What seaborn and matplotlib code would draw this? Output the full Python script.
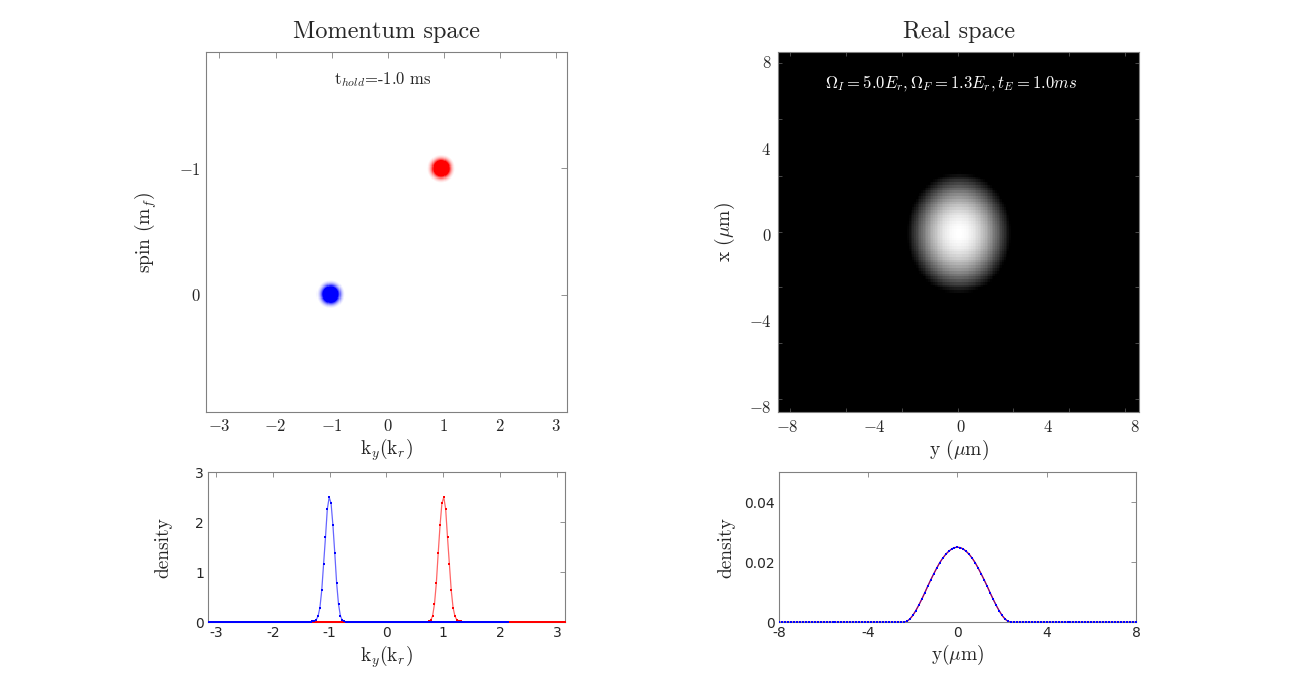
import numpy as np
import pandas as pd
import seaborn as sns
import matplotlib.pyplot as plt

# ---- values ----
# momentum space: blob centres (k_y [k_r], spin m_f)
blue_center = (-1.02, 0.0)
red_center = (0.96, -1.0)
blob_width_k = 0.093
blob_width_spin = 0.042

# momentum density near each peak, one value per grid step (~0.033 k_r)
blue_peak = [0.01, 0.02, 0.03, 0.05, 0.12, 0.29, 0.64, 1.17, 1.70, 2.27,
             2.50, 2.38, 1.94, 1.38, 0.78, 0.36, 0.13, 0.04, 0.02, 0.01]
red_peak = [0.01, 0.02, 0.04, 0.13, 0.36, 0.78, 1.38, 1.94, 2.38, 2.50,
            2.27, 1.70, 1.17, 0.64, 0.29, 0.12, 0.05, 0.03, 0.02, 0.01]

# real space: cloud centre (y, x) and radii in um
cloud_center = (-0.1, 0.05)
cloud_radius_y = 2.4
cloud_radius_x = 2.85

# real-space density along y near the centre (grid step 2/15 um)
real_peak = [0.0003, 0.0011, 0.0023, 0.0039, 0.0057, 0.0077, 0.0098, 0.0120,
             0.0141, 0.0161, 0.0180, 0.0198, 0.0213, 0.0226, 0.0236, 0.0244,
             0.0249, 0.0250, 0.0249, 0.0244, 0.0236, 0.0226, 0.0213, 0.0198,
             0.0180, 0.0161, 0.0141, 0.0120, 0.0098, 0.0077, 0.0057, 0.0039,
             0.0023, 0.0011, 0.0003]

k_ticks = [-3, -2, -1, 0, 1, 2, 3]
k_tick_labels_math = ['$-3$', '$-2$', '$-1$', '$0$', '$1$', '$2$', '$3$']
k_tick_labels = ['-3', '-2', '-1', '0', '1', '2', '3']
spin_ticks = [-1, 0]
spin_tick_labels = ['$-1$', '$0$']
r_ticks = [-8, -4, 0, 4, 8]
r_tick_labels_math = ['$-8$', '$-4$', '$0$', '$4$', '$8$']
r_tick_labels = ['-8', '-4', '0', '4', '8']
kd_ticks = [0, 1, 2, 3]
kd_tick_labels = ['0', '1', '2', '3']
rd_ticks = [0, 0.02, 0.04]
rd_tick_labels = ['0', '0.02', '0.04']
img_minor_y = [7.94, 5.34, 2.70, 0.10, -2.45, -5.05, -7.65]
img_minor_x = [-7.86, -5.29, -2.73, -0.15, 2.39, 4.97, 7.54]

# grids
k_grid = np.linspace(-2.64, 2.64, 162)
blue_k = k_grid - 0.5
red_k = k_grid + 0.5
blue_density = np.zeros(len(k_grid))
blue_density[55:55 + len(blue_peak)] = blue_peak
red_density = np.zeros(len(k_grid))
red_density[87:87 + len(red_peak)] = red_peak

y_grid = np.linspace(-8, 8, 121)
real_density = np.zeros(len(y_grid))
real_density[43:43 + len(real_peak)] = real_peak

mom_df = pd.concat([
    pd.DataFrame({'k': blue_k, 'density': blue_density, 'spin': 'blue'}),
    pd.DataFrame({'k': red_k, 'density': red_density, 'spin': 'red'}),
])

sns.set_theme(style="white")
plt.rcParams['font.family'] = ['cmr10', 'DejaVu Serif']
plt.rcParams['mathtext.fontset'] = 'cm'
plt.rcParams['axes.unicode_minus'] = False
plt.rcParams['axes.formatter.use_mathtext'] = True

fig = plt.figure(figsize=(13, 7), dpi=100)
ax_k = fig.add_axes([0.1585, 0.4114, 0.2775, 0.514])
ax_r = fig.add_axes([0.5987, 0.4114, 0.2777, 0.514])
ax_kd = fig.add_axes([0.1600, 0.1110, 0.2746, 0.2143])
ax_rd = fig.add_axes([0.5992, 0.1110, 0.2746, 0.2143])

spine_col = '#808080'
for ax in (ax_k, ax_r, ax_kd, ax_rd):
    for sp in ax.spines.values():
        sp.set_color(spine_col)
        sp.set_linewidth(0.8)

# ---- momentum space image ----
kx = np.linspace(-3.24, 3.2, 330)
sy = np.linspace(-1.92, 0.93, 330)
K, S = np.meshgrid(kx, sy)


def blob(c):
    return np.exp(-0.5 * ((K - c[0]) / blob_width_k) ** 2
                  - 0.5 * ((S - c[1]) / blob_width_spin) ** 2)


a_b = np.clip(3.3 * blob(blue_center) - 0.08, 0, 1)[..., None]
a_r = np.clip(3.3 * blob(red_center) - 0.08, 0, 1)[..., None]
rgb = np.ones(K.shape + (3,))
rgb = rgb - a_b * (1 - np.array([0, 0, 1.0])) - a_r * (1 - np.array([1.0, 0, 0]))
ax_k.imshow(np.clip(rgb, 0, 1), extent=(-3.24, 3.2, 0.93, -1.92),
            origin='upper', aspect='auto', interpolation='nearest')
ax_k.set_xlim(-3.24, 3.2)
ax_k.set_ylim(0.93, -1.92)
ax_k.set_xticks(k_ticks, labels=k_tick_labels_math, fontsize=12)
ax_k.set_yticks(spin_ticks, labels=spin_tick_labels, fontsize=12)
ax_k.tick_params(direction='in', length=4, width=0.6, color=spine_col,
                 top=True, right=True, pad=4)
ax_k.set_title('Momentum space', fontsize=17.5, pad=10)
ax_k.set_xlabel('k$_y$(k$_r$)', fontsize=14, labelpad=2)
ax_k.set_ylabel('spin (m$_f$)', fontsize=14, labelpad=14)
ax_k.text(0.49, 0.925, 't$_{hold}$=-1.0 ms', transform=ax_k.transAxes,
          ha='center', va='center', fontsize=12)

# ---- real space image ----
yy = np.linspace(-8.4, 8.2, 210)
xx = np.linspace(8.45, -8.25, 130)
Y, X = np.meshgrid(yy, xx)
r2 = ((Y - cloud_center[0]) / cloud_radius_y) ** 2 + ((X - cloud_center[1]) / cloud_radius_x) ** 2
cloud = np.clip(1 - r2, 0, None) ** 1.2
ax_r.imshow(cloud, cmap='gray', vmin=0, vmax=1, extent=(-8.4, 8.2, -8.25, 8.45),
            origin='upper', aspect='auto', interpolation='nearest')
ax_r.set_xlim(-8.4, 8.2)
ax_r.set_ylim(-8.25, 8.45)
ax_r.set_xticks(r_ticks, labels=r_tick_labels_math, fontsize=12)
ax_r.set_yticks(r_ticks, labels=r_tick_labels_math, fontsize=12)
ax_r.set_xticks(img_minor_x, minor=True)
ax_r.set_yticks(img_minor_y, minor=True)
ax_r.tick_params(which='major', length=0, pad=5)
ax_r.tick_params(which='minor', direction='in', length=3, width=0.6,
                 color='#555555', top=True, right=True, bottom=True, left=True)
ax_r.set_title('Real space', fontsize=17.5, pad=10)
ax_r.set_xlabel(r'y ($\mu$m)', fontsize=14, labelpad=2)
ax_r.set_ylabel(r'x ($\mu$m)', fontsize=14, labelpad=8)
ax_r.text(0.478, 0.915, r'$\Omega_I=5.0E_r,\Omega_F=1.3E_r,t_E=1.0ms$',
          transform=ax_r.transAxes, ha='center', va='center', fontsize=12,
          color='white')

# ---- momentum density ----
palette = {'blue': (0, 0, 1), 'red': (1, 0, 0)}
for name in ['red', 'blue']:
    sub = mom_df[mom_df['spin'] == name]
    sns.lineplot(data=sub, x='k', y='density', color=palette[name],
                 linewidth=0.9, alpha=0.6, estimator=None, ax=ax_kd)
    sns.scatterplot(data=sub, x='k', y='density', color=palette[name],
                    marker='s', s=3, linewidth=0, ax=ax_kd, zorder=3)
ax_kd.set_xlim(-np.pi, np.pi)
ax_kd.set_ylim(0, 3)
ax_kd.set_xticks(k_ticks, labels=k_tick_labels, fontfamily='DejaVu Sans',
                 fontsize=10, color='#262626')
ax_kd.set_yticks(kd_ticks, labels=kd_tick_labels, fontfamily='DejaVu Sans',
                 fontsize=10, color='#262626')
ax_kd.tick_params(direction='in', length=3.5, width=0.6, color=spine_col,
                  top=True, right=True, pad=3)
ax_kd.set_xlabel('k$_y$(k$_r$)', fontsize=14, labelpad=2)
ax_kd.set_ylabel('density', fontsize=14, labelpad=16)

# ---- real-space density ----
sns.lineplot(x=y_grid, y=real_density, color=(1, 0, 0), linewidth=0.9,
             estimator=None, ax=ax_rd)
sns.lineplot(x=y_grid, y=real_density, color=(0, 0, 1), linewidth=0.9,
             alpha=0.5, estimator=None, ax=ax_rd)
sns.scatterplot(x=y_grid, y=real_density, color=(0, 0, 1), marker='s', s=3,
                linewidth=0, ax=ax_rd, zorder=3)
ax_rd.set_xlim(-8, 8)
ax_rd.set_ylim(0, 0.05)
ax_rd.set_xticks(r_ticks, labels=r_tick_labels, fontfamily='DejaVu Sans',
                 fontsize=10, color='#262626')
ax_rd.set_yticks(rd_ticks, labels=rd_tick_labels, fontfamily='DejaVu Sans',
                 fontsize=10, color='#262626')
ax_rd.tick_params(direction='in', length=3.5, width=0.6, color=spine_col,
                  top=True, right=True, pad=3)
ax_rd.set_xlabel(r'y($\mu$m)', fontsize=14, labelpad=2)
ax_rd.set_ylabel('density', fontsize=14, labelpad=6)

fig.savefig('out.png', dpi=100)
